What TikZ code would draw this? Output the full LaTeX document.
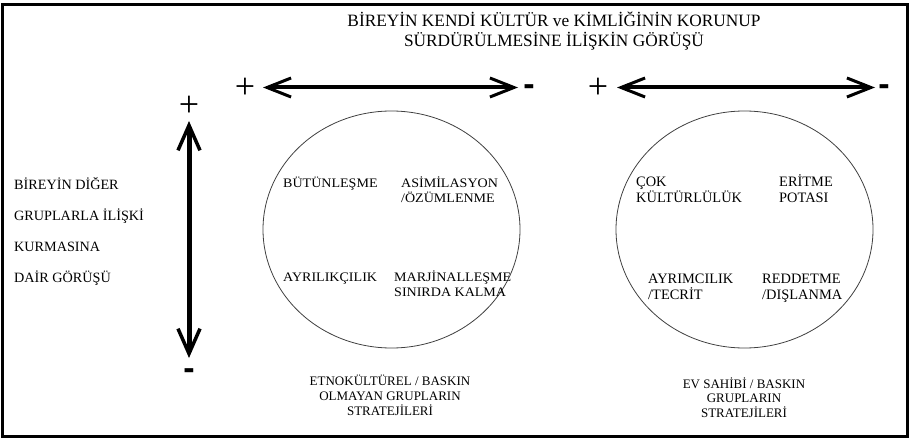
\documentclass[tikz,border=0pt]{standalone}
\usepackage{fontspec}
\setmainfont{Liberation Serif}
\newfontfamily\signfont{Liberation Sans}
\newfontfamily\widefont[FakeStretch=1.08]{Liberation Serif}
\usetikzlibrary{arrows.meta,shapes.geometric}
\begin{document}
\begin{tikzpicture}[x=1pt,y=-1pt,
  lbl/.style={inner sep=0pt, anchor=base west, align=left, font=\widefont\fontsize{13}{15}\selectfont},
  rlbl/.style={inner sep=0pt, anchor=base west, align=left, font=\fontsize{14.4}{16}\selectfont},
  captxt/.style={inner sep=0pt, anchor=base, align=center, font=\fontsize{13}{15}\selectfont},
  signplus/.style={inner sep=0pt, font=\fontsize{36}{36}\selectfont},
  signminus/.style={inner sep=0pt, anchor=base, font=\signfont\bfseries\fontsize{34}{34}\selectfont},
  oval/.style={draw=black!75, line width=0.8pt, ellipse, inner sep=0pt, minimum width=257pt, minimum height=237pt},
  harrow/.style={line width=4pt, >={Straight Barb[length=24pt,width=19pt,line width=3pt]}, <->},
  varrow/.style={line width=5pt, >={Straight Barb[length=25pt,width=22pt,line width=3.5pt]}, <->}
]
\useasboundingbox (0,0) rectangle (912,441);
\draw[line width=3pt] (2.5,5) rectangle (907,436);

% title
\node[inner sep=0pt, anchor=base, align=center, font=\fontsize{17.3}{19.7}\selectfont] (title) at (554,46.6)
  {BİREYİN KENDİ KÜLTÜR ve KİMLİĞİNİN KORUNUP\\SÜRDÜRÜLMESİNE İLİŞKİN GÖRÜŞÜ};

% horizontal scales
\node[signplus] (lp) at (245,88) {+};
\node[signminus] (lm) at (529,96) {-};
\coordinate (la) at (263,87.5);
\coordinate (lb) at (518,87.5);
\draw[harrow] (la) -- (lb);

\node[signplus] (rp) at (598,88) {+};
\node[signminus] (rm) at (884,96) {-};
\coordinate (ra) at (617,87.5);
\coordinate (rb) at (875,87.5);
\draw[harrow] (ra) -- (rb);

% vertical scale
\node[signplus] (vp) at (189,106) {+};
\node[signminus] (vm) at (189,379) {-};
\coordinate (va) at (189,121);
\coordinate (vb) at (189,358);
\draw[varrow] (va) -- (vb);

% left text
\node[inner sep=0pt, anchor=base west, align=left, font=\fontsize{14.2}{31}\selectfont] (side) at (14,282.6)
  {BİREYİN DİĞER\\GRUPLARLA İLİŞKİ\\KURMASINA\\DAİR GÖRÜŞÜ};

% circles
\node[oval] (c1) at (391.5,229.5) {};
\node[oval] (c2) at (744.5,229.5) {};

% left circle labels
\node[lbl] (l1) at (283,187.3) {BÜTÜNLEŞME};
\node[lbl] (l2) at (401,202.3) {ASİMİLASYON\\/ÖZÜMLENME};
\node[lbl] (l3) at (283,281.3) {AYRILIKÇILIK};
\node[lbl] (l4) at (394,296.3) {MARJİNALLEŞME\\SINIRDA KALMA};

% right circle labels
\node[rlbl] (r1) at (636,202.6) {ÇOK\\KÜLTÜRLÜLÜK};
\node[rlbl] (r2) at (779,202.6) {ERİTME\\POTASI};
\node[rlbl] (r3) at (648,299.6) {AYRIMCILIK\\/TECRİT};
\node[rlbl] (r4) at (762,299.6) {REDDETME\\/DIŞLANMA};

% captions
\node[captxt] (cap1) at (390,415.3) {ETNOKÜLTÜREL / BASKIN\\OLMAYAN GRUPLARIN\\STRATEJİLERİ};
\node[captxt, font=\fontsize{13}{14.5}\selectfont] (cap2) at (744,417.3) {EV SAHİBİ / BASKIN\\GRUPLARIN\\STRATEJİLERİ};
\end{tikzpicture}
\end{document}
